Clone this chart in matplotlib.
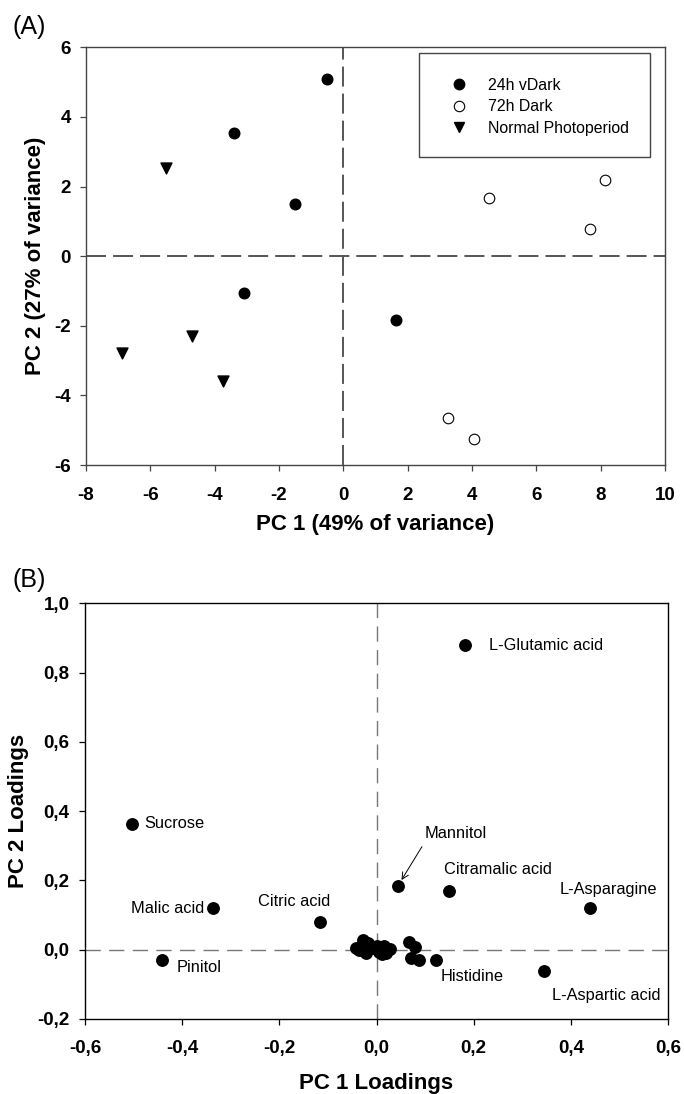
import matplotlib
matplotlib.use("Agg")
import matplotlib.pyplot as plt
from matplotlib.ticker import FuncFormatter, MultipleLocator
from matplotlib.lines import Line2D
from matplotlib.patches import Rectangle

plt.rcParams['font.family'] = ['Liberation Sans', 'DejaVu Sans']

# ---------------- Panel A data (scores) ----------------
vdark24_x = [-0.5, -3.4, -1.5, -3.1, 1.65]
vdark24_y = [5.1, 3.53, 1.5, -1.05, -1.82]
dark72_x = [4.53, 8.13, 7.68, 3.25, 4.07]
dark72_y = [1.66, 2.19, 0.79, -4.64, -5.26]
normal_x = [-5.52, -4.71, -6.87, -3.75]
normal_y = [2.53, -2.29, -2.79, -3.6]
legend_labels = ["24h vDark", "72h Dark", "Normal Photoperiod"]

# ---------------- Panel B data (loadings) ----------------
named_labels = ["L-Glutamic acid", "Sucrose", "Mannitol", "Citramalic acid",
                "L-Asparagine", "Malic acid", "Citric acid", "Pinitol",
                "Histidine", "L-Aspartic acid"]
named_x = [0.182, -0.503, 0.044, 0.149, 0.439, -0.337, -0.116, -0.441, 0.123, 0.344]
named_y = [0.878, 0.363, 0.184, 0.169, 0.120, 0.119, 0.080, -0.031, -0.031, -0.061]
cluster_x = [-0.042, -0.028, -0.021, -0.014, -0.007, 0.000, 0.005, 0.010, 0.015,
             0.020, 0.027, -0.035, 0.066, 0.080, 0.070, 0.087, -0.018, 0.012]
cluster_y = [0.004, 0.028, -0.010, 0.008, 0.006, 0.010, -0.006, 0.004, 0.010,
             -0.010, 0.002, 0.000, 0.023, 0.009, -0.024, -0.029, 0.020, -0.012]

fig = plt.figure(figsize=(6.84, 10.94), dpi=100)

def fmt_int(v, pos):
    return f"{v:.0f}"

def fmt_comma(v, pos):
    s = f"{v:.1f}".replace('.', ',')
    if s in ("-0,0",):
        s = "0,0"
    return s

TICK_FS = 13.5
LABEL_FS = 16
ANN_FS = 11.8

# ---------------- Panel A ----------------
W, H = 684.0, 1094.0
axA = fig.add_axes([86 / W, 1 - 465 / H, (665 - 86) / W, (465 - 47.3) / H])
axA.set_xlim(-8, 10)
axA.set_ylim(-6, 6)
axA.axhline(0, color='#555555', lw=1.4, ls=(0, (10.3, 3.6)), zorder=1)
axA.axvline(0, color='#555555', lw=1.4, ls=(0, (10.3, 3.6)), zorder=1)
axA.scatter(vdark24_x, vdark24_y, s=58, marker='o', c='black', zorder=3)
axA.scatter(dark72_x, dark72_y, s=58, marker='o', facecolors='white',
            edgecolors='black', linewidths=0.8, zorder=3)
axA.scatter(normal_x, normal_y, s=62, marker='v', c='black', zorder=3)
axA.xaxis.set_major_locator(MultipleLocator(2))
axA.yaxis.set_major_locator(MultipleLocator(2))
axA.xaxis.set_major_formatter(FuncFormatter(fmt_int))
axA.yaxis.set_major_formatter(FuncFormatter(fmt_int))
for sp in axA.spines.values():
    sp.set_color('#444444')
    sp.set_linewidth(1.0)
axA.tick_params(direction='out', length=4, width=0.9, color='#444444',
                labelsize=TICK_FS)
axA.tick_params(axis='x', pad=12)
axA.tick_params(axis='y', pad=7)
for lab in axA.get_xticklabels() + axA.get_yticklabels():
    lab.set_fontweight('bold')
axA.set_xlabel("PC 1 (49% of variance)", fontsize=LABEL_FS, fontweight='bold', labelpad=7)
axA.set_ylabel("PC 2 (27% of variance)", fontsize=LABEL_FS, fontweight='bold', labelpad=6)

# legend box
x0 = (419 - 86) / (665 - 86)
x1 = (650 - 86) / (665 - 86)
y0 = (465 - 157) / (465 - 47.3)
y1 = (465 - 53) / (465 - 47.3)
axA.add_patch(Rectangle((x0, y0), x1 - x0, y1 - y0, transform=axA.transAxes,
                        facecolor='white', edgecolor='#444444', lw=1.0, zorder=4))
handles = [
    Line2D([], [], ls='none', marker='o', color='black', ms=7.5),
    Line2D([], [], ls='none', marker='o', markerfacecolor='white',
           markeredgecolor='black', markeredgewidth=0.8, ms=7.5),
    Line2D([], [], ls='none', marker='v', color='black', ms=7.5),
]
leg = axA.legend(handles, legend_labels, loc='upper left',
                 bbox_to_anchor=((451 - 86) / (665 - 86), (465 - 78) / (465 - 47.3)),
                 frameon=False, fontsize=11.4, handlelength=1.0, handletextpad=1.35,
                 labelspacing=0.4, borderpad=0, borderaxespad=0)
leg.set_zorder(5)

fig.text(12 / W, 1 - 27 / H, "(A)", fontsize=18, ha='left', va='center')

# ---------------- Panel B ----------------
axB = fig.add_axes([85 / W, 1 - 1019 / H, (668 - 85) / W, (1019 - 603.2) / H])
axB.set_xlim(-0.6, 0.6)
axB.set_ylim(-0.2, 1.0)
axB.axhline(0, color='#777777', lw=1.0, ls=(0, (11, 6)), zorder=1)
axB.axvline(0, color='#777777', lw=1.0, ls=(0, (11, 6)), zorder=1)
axB.scatter(cluster_x, cluster_y, s=68, marker='o', c='black', zorder=3)
axB.scatter(named_x, named_y, s=68, marker='o', c='black', zorder=3)

# label offsets (points) and alignments
label_style = {
    "L-Glutamic acid": ((17, 0), 'left', 'center'),
    "Sucrose": ((8.4, 0), 'left', 'center'),
    "Mannitol": ((42, 37.4), 'center', 'center'),
    "Citramalic acid": ((35.6, 15.8), 'center', 'center'),
    "L-Asparagine": ((13.7, 13.7), 'center', 'center'),
    "Malic acid": ((-6, 0), 'right', 'center'),
    "Citric acid": ((-18.6, 14.4), 'center', 'center'),
    "Pinitol": ((10.6, -4.8), 'left', 'center'),
    "Histidine": ((25.5, -11.5), 'center', 'center'),
    "L-Aspartic acid": ((45.3, -18), 'center', 'center'),
}
for lab, x, y in zip(named_labels, named_x, named_y):
    off, ha, va = label_style[lab]
    if lab == "Mannitol":
        axB.annotate(lab, xy=(x, y), xytext=off, textcoords='offset points',
                     ha=ha, va=va, fontsize=ANN_FS,
                     arrowprops=dict(arrowstyle='->', lw=0.7, color='black',
                                     relpos=(0.0, 0.0), shrinkA=2, shrinkB=5))
    else:
        axB.annotate(lab, xy=(x, y), xytext=off, textcoords='offset points',
                     ha=ha, va=va, fontsize=ANN_FS)

axB.xaxis.set_major_locator(MultipleLocator(0.2))
axB.yaxis.set_major_locator(MultipleLocator(0.2))
axB.xaxis.set_major_formatter(FuncFormatter(fmt_comma))
axB.yaxis.set_major_formatter(FuncFormatter(fmt_comma))
for sp in axB.spines.values():
    sp.set_color('black')
    sp.set_linewidth(1.0)
axB.tick_params(direction='out', length=4, width=0.9, labelsize=TICK_FS)
axB.tick_params(axis='x', pad=11)
axB.tick_params(axis='y', pad=7)
for lab in axB.get_xticklabels() + axB.get_yticklabels():
    lab.set_fontweight('bold')
axB.set_xlabel("PC 1 Loadings", fontsize=LABEL_FS, fontweight='bold', labelpad=12)
axB.set_ylabel("PC 2 Loadings", fontsize=LABEL_FS, fontweight='bold', labelpad=6)

fig.text(12 / W, 1 - 580 / H, "(B)", fontsize=18, ha='left', va='center')

fig.savefig("out.png", dpi=100)
